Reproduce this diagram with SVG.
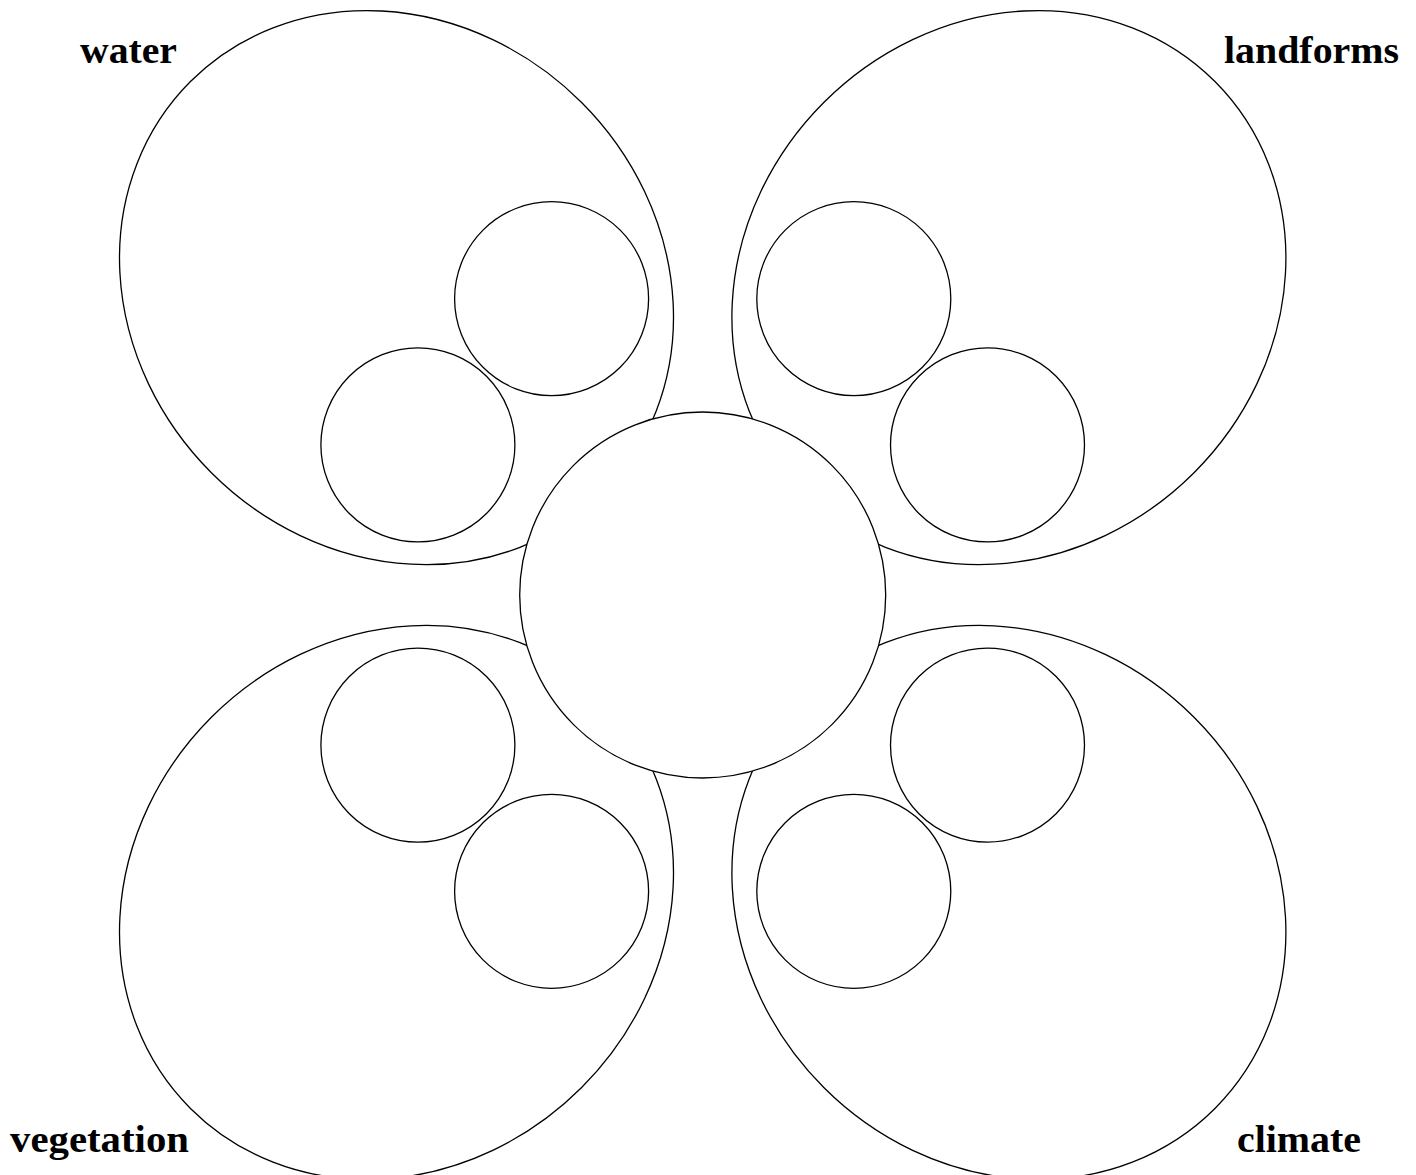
<svg xmlns="http://www.w3.org/2000/svg" width="1416" height="1175" viewBox="0 0 1416 1175">
  <style>
    .shape { fill: #ffffff; stroke: #000000; stroke-width: 1.3; }
    .label { font-family: "Liberation Serif", "DejaVu Serif", serif; font-weight: bold; font-size: 38px; fill: #000000; }
  </style>
  <rect x="0" y="0" width="1416" height="1175" fill="#ffffff"/>
  <g id="connectors"></g>
  <g id="node-water">
    <ellipse class="shape" cx="0" cy="0" rx="291.4" ry="261.8" transform="translate(396.5 287.6) rotate(45)"/>
    <text class="label" x="80" y="63" textLength="97" lengthAdjust="spacingAndGlyphs">water</text>
  </g>
  <g id="node-landforms">
    <ellipse class="shape" cx="0" cy="0" rx="291.4" ry="261.8" transform="translate(1008.9 287.6) rotate(-45)"/>
    <text class="label" x="1224" y="63" textLength="175" lengthAdjust="spacingAndGlyphs">landforms</text>
  </g>
  <g id="node-vegetation">
    <ellipse class="shape" cx="0" cy="0" rx="291.4" ry="261.8" transform="translate(396.5 902.4) rotate(-45)"/>
    <text class="label" x="10" y="1152" textLength="179" lengthAdjust="spacingAndGlyphs">vegetation</text>
  </g>
  <g id="node-climate">
    <ellipse class="shape" cx="0" cy="0" rx="291.4" ry="261.8" transform="translate(1008.9 902.4) rotate(45)"/>
    <text class="label" x="1237" y="1152" textLength="124" lengthAdjust="spacingAndGlyphs">climate</text>
  </g>
  <g id="node-water-sub1"><circle class="shape" cx="551.6" cy="298.7" r="97"/></g>
  <g id="node-water-sub2"><circle class="shape" cx="417.9" cy="444.9" r="97"/></g>
  <g id="node-landforms-sub1"><circle class="shape" cx="853.8" cy="298.7" r="97"/></g>
  <g id="node-landforms-sub2"><circle class="shape" cx="987.5" cy="444.9" r="97"/></g>
  <g id="node-vegetation-sub1"><circle class="shape" cx="417.9" cy="745.1" r="97"/></g>
  <g id="node-vegetation-sub2"><circle class="shape" cx="551.6" cy="891.3" r="97"/></g>
  <g id="node-climate-sub1"><circle class="shape" cx="987.5" cy="745.1" r="97"/></g>
  <g id="node-climate-sub2"><circle class="shape" cx="853.8" cy="891.3" r="97"/></g>
  <g id="node-center"><circle class="shape" cx="702.7" cy="595" r="183"/></g>
</svg>
